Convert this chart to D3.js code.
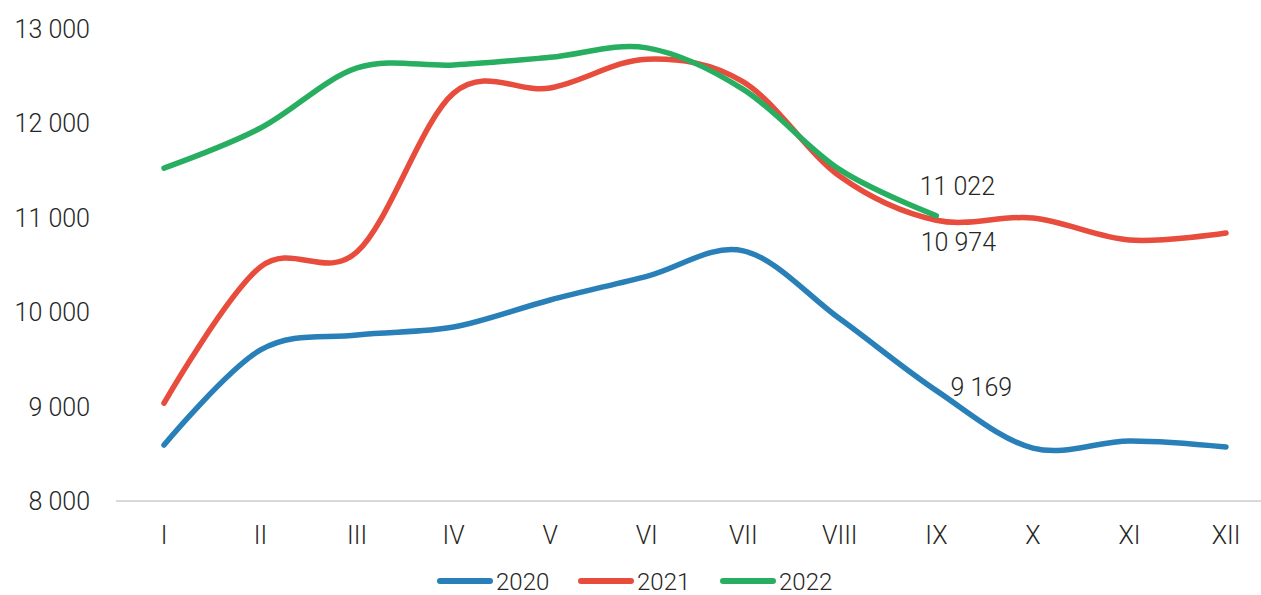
<!DOCTYPE html>
<html><head><meta charset="utf-8">
<script src="https://cdn.jsdelivr.net/npm/d3@7"></script>
<style>
html,body{margin:0;padding:0;background:#fff;}
svg{display:block;font-family:Roboto,"Open Sans",sans-serif;}
</style></head>
<body><svg id="c" width="1261" height="595"></svg>
<script>
const months = ["I","II","III","IV","V","VI","VII","VIII","IX","X","XI","XII"];
const yTicks = [8000, 9000, 10000, 11000, 12000, 13000];
const v2020 = [8593, 9600, 9758, 9843, 10129, 10380, 10650, 9930, 9169, 8560, 8636, 8572];
const v2021 = [9038, 10480, 10640, 12320, 12375, 12680, 12440, 11440, 10974, 10998, 10765, 10839];
const v2022 = [11527, 11951, 12587, 12619, 12700, 12800, 12360, 11510, 11022];
const seriesNames = ["2020", "2021", "2022"];
const seriesColors = ["#2980b9", "#e74c3c", "#27ae60"];
const seriesValues = [v2020, v2021, v2022];

const svg = d3.select("#c");
const x = d3.scalePoint().domain(months).range([164, 1226]);
const y = d3.scaleLinear().domain([8000, 13000]).range([501, 29]);
const fmt = v => d3.format(",")(v).replace(/,/g, " ");
const txt = "#262626";

// baseline
svg.append("line").attr("x1", 116).attr("x2", 1261).attr("y1", y(8000)).attr("y2", y(8000))
  .attr("stroke", "#d9d9d9").attr("stroke-width", 2);

// y labels
svg.append("g").selectAll("text").data(yTicks).join("text")
  .attr("x", 90).attr("y", d => y(d)).attr("dy", "0.36em")
  .attr("text-anchor", "end").attr("font-size", 25).attr("font-weight", 300).attr("fill", txt)
  .text(fmt);

// x labels
svg.append("g").selectAll("text").data(months).join("text")
  .attr("x", d => x(d)).attr("y", 535).attr("dy", "0.36em")
  .attr("text-anchor", "middle").attr("font-size", 25).attr("font-weight", 300).attr("fill", txt)
  .text(d => d);

// lines
const line = d3.line().x((d, i) => x(months[i])).y(d => y(d)).curve(d3.curveCardinal.tension(0));
seriesValues.forEach((vals, k) => {
  svg.append("path").datum(vals).attr("d", line).attr("fill", "none")
    .attr("stroke", seriesColors[k]).attr("stroke-width", 5.5)
    .attr("stroke-linecap", "round").attr("stroke-linejoin", "round");
});

// data labels at IX
const labelIdx = 8;
const labelOffsets = [[45, -4], [22, 22], [21, -30]];
seriesValues.forEach((vals, k) => {
  const [dx, dy] = labelOffsets[k];
  svg.append("text").attr("x", x(months[labelIdx]) + dx).attr("y", y(vals[labelIdx]) + dy)
    .attr("dy", "0.36em").attr("text-anchor", "middle").attr("font-size", 25).attr("font-weight", 300)
    .attr("fill", txt).text(fmt(vals[labelIdx]));
});

// legend
const legendX = [437, 578, 720];
seriesNames.forEach((n, k) => {
  const g = svg.append("g").attr("transform", `translate(${legendX[k]},581)`);
  g.append("line").attr("x1", 3).attr("x2", 53).attr("y1", 0).attr("y2", 0)
    .attr("stroke", seriesColors[k]).attr("stroke-width", 6).attr("stroke-linecap", "round");
  g.append("text").attr("x", 59).attr("y", 0).attr("dy", "0.36em")
    .attr("font-size", 24).attr("font-weight", 300).attr("fill", txt).text(n);
});
</script></body></html>
